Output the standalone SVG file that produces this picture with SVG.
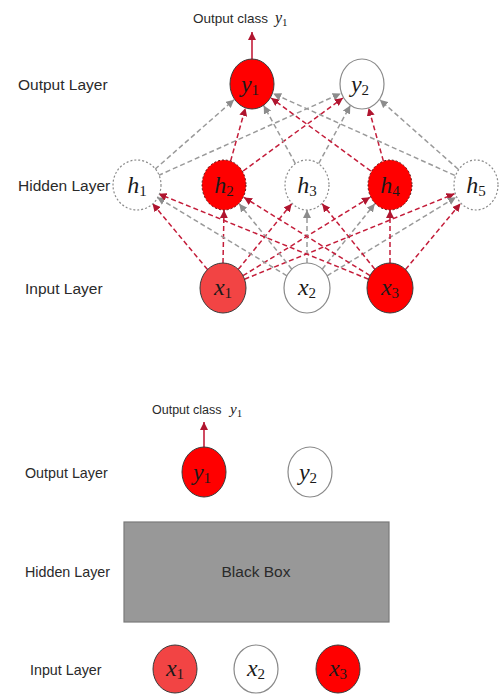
<svg xmlns="http://www.w3.org/2000/svg" width="501" height="694" viewBox="0 0 501 694">
  <style>
    .layer { font-family: "Liberation Sans", Arial, sans-serif; fill: #2a2a2a; }
    .math { font-family: "Liberation Serif", "DejaVu Serif", serif; font-style: italic; fill: #1a1a1a; }
    .sub { font-style: normal; }
    .edge { fill: none; stroke-width: 1.5; stroke-dasharray: 5 3; }
    .red { stroke: #c41d3a; marker-end: url(#headRed); }
    .grey { stroke: #9a9a9a; marker-end: url(#headGrey); }
    .solid { fill: none; stroke: #c41d3a; stroke-width: 1.6; marker-end: url(#headRed); }
    .on { fill: #ff0000; stroke: #3a3a3a; stroke-width: 1; }
    .half { fill: #f24444; stroke: #3a3a3a; stroke-width: 1; }
    .off { fill: #ffffff; stroke: #8a8a8a; stroke-width: 1.2; }
    .hid-on { fill: #ff0000; stroke: #5a1010; stroke-width: 1; stroke-dasharray: 2 2; }
    .hid-off { fill: #ffffff; stroke: #8a8a8a; stroke-width: 1.2; stroke-dasharray: 2 2; }
  </style>
  <defs>
    <marker id="headRed" markerUnits="userSpaceOnUse" markerWidth="9" markerHeight="8" refX="8" refY="4" orient="auto">
      <path d="M0,0 L8,4 L0,8 z" fill="#b0152f"/>
    </marker>
    <marker id="headGrey" markerUnits="userSpaceOnUse" markerWidth="9" markerHeight="8" refX="8" refY="4" orient="auto">
      <path d="M0,0 L8,4 L0,8 z" fill="#8c8c8c"/>
    </marker>
  </defs>

  <!-- ===== Full network ===== -->
  <text class="layer" x="193" y="23" font-size="13.5">Output class</text>
  <text class="math" x="275" y="23" font-size="16">y<tspan class="sub" font-size="11" dy="3">1</tspan></text>
  <text class="layer" x="18" y="90" font-size="15.5">Output Layer</text>
  <text class="layer" x="18" y="191" font-size="15.5">Hidden Layer</text>
  <text class="layer" x="25" y="294" font-size="15.5">Input Layer</text>

  <g id="connectors">
    <!-- output arrow -->
    <line class="solid" x1="252" y1="59" x2="252" y2="32"/>
    <!-- input to hidden -->
    <line class="edge red" x1="207.5" y1="269.5" x2="152.5" y2="203.5"/>
    <line class="edge red" x1="223" y1="263" x2="224" y2="210"/>
    <line class="edge red" x1="238.3" y1="269.3" x2="291.7" y2="203.7"/>
    <line class="edge red" x1="243" y1="275.7" x2="370" y2="197.3"/>
    <line class="edge red" x1="244.5" y1="279.2" x2="454.5" y2="193.8"/>
    <line class="edge grey" x1="286.9" y1="275.8" x2="157.1" y2="197.2"/>
    <line class="edge grey" x1="291.8" y1="269.2" x2="239.2" y2="203.8"/>
    <line class="edge grey" x1="307" y1="263" x2="307" y2="210"/>
    <line class="edge grey" x1="322.2" y1="269.2" x2="374.8" y2="203.8"/>
    <line class="edge grey" x1="327.1" y1="275.8" x2="455.9" y2="197.2"/>
    <line class="edge red" x1="368.5" y1="279.2" x2="158.5" y2="193.8"/>
    <line class="edge red" x1="370" y1="275.6" x2="244" y2="197.4"/>
    <line class="edge red" x1="374.8" y1="269.2" x2="322.2" y2="203.8"/>
    <line class="edge red" x1="390" y1="263" x2="390" y2="210"/>
    <line class="edge red" x1="405.5" y1="269.5" x2="460.5" y2="203.5"/>
    <!-- hidden to output -->
    <line class="edge grey" x1="154.9" y1="169.3" x2="234.1" y2="99.7"/>
    <line class="edge grey" x1="158.3" y1="175.5" x2="340.7" y2="93.5"/>
    <line class="edge red" x1="230.6" y1="161.1" x2="245.4" y2="107.9"/>
    <line class="edge red" x1="243.1" y1="171" x2="342.9" y2="98"/>
    <line class="edge grey" x1="295.3" y1="163.5" x2="263.7" y2="105.5"/>
    <line class="edge grey" x1="318.7" y1="163.5" x2="350.3" y2="105.5"/>
    <line class="edge red" x1="370.9" y1="171" x2="271.1" y2="98"/>
    <line class="edge red" x1="383.4" y1="161.1" x2="368.6" y2="107.9"/>
    <line class="edge grey" x1="454.8" y1="175.4" x2="273.2" y2="93.6"/>
    <line class="edge grey" x1="458.2" y1="169.2" x2="379.8" y2="99.8"/>
    <!-- reduced view output arrow -->
    <line class="solid" x1="204" y1="447" x2="204" y2="422"/>
  </g>

  <g id="y1"><ellipse class="on" cx="252" cy="84" rx="22" ry="25"/><text class="math" x="250" y="92" font-size="24" text-anchor="middle">y<tspan class="sub" font-size="15" dy="3">1</tspan></text></g>
  <g id="y2"><ellipse class="off" cx="362" cy="84" rx="22" ry="25"/><text class="math" x="360" y="92" font-size="24" text-anchor="middle">y<tspan class="sub" font-size="15" dy="3">2</tspan></text></g>

  <g id="h1"><ellipse class="hid-off" cx="137" cy="185" rx="24" ry="25"/><text class="math" x="137" y="193" font-size="24" text-anchor="middle">h<tspan class="sub" font-size="15" dy="3">1</tspan></text></g>
  <g id="h2"><ellipse class="hid-on" cx="224" cy="185" rx="22" ry="25"/><text class="math" x="224" y="193" font-size="24" text-anchor="middle">h<tspan class="sub" font-size="15" dy="3">2</tspan></text></g>
  <g id="h3"><ellipse class="hid-off" cx="307" cy="185" rx="22" ry="25"/><text class="math" x="307" y="193" font-size="24" text-anchor="middle">h<tspan class="sub" font-size="15" dy="3">3</tspan></text></g>
  <g id="h4"><ellipse class="hid-on" cx="390" cy="185" rx="22" ry="25"/><text class="math" x="390" y="193" font-size="24" text-anchor="middle">h<tspan class="sub" font-size="15" dy="3">4</tspan></text></g>
  <g id="h5"><ellipse class="hid-off" cx="476" cy="185" rx="22" ry="25"/><text class="math" x="476" y="193" font-size="24" text-anchor="middle">h<tspan class="sub" font-size="15" dy="3">5</tspan></text></g>

  <g id="x1"><ellipse class="half" cx="223" cy="288" rx="23" ry="25"/><text class="math" x="223" y="295" font-size="24" text-anchor="middle">x<tspan class="sub" font-size="15" dy="3">1</tspan></text></g>
  <g id="x2"><ellipse class="off" cx="307" cy="288" rx="23" ry="25"/><text class="math" x="307" y="295" font-size="24" text-anchor="middle">x<tspan class="sub" font-size="15" dy="3">2</tspan></text></g>
  <g id="x3"><ellipse class="on" cx="390" cy="288" rx="23" ry="25"/><text class="math" x="390" y="295" font-size="24" text-anchor="middle">x<tspan class="sub" font-size="15" dy="3">3</tspan></text></g>

  <!-- ===== Reduced view ===== -->
  <text class="layer" x="152" y="414" font-size="12.5">Output class</text>
  <text class="math" x="230" y="414" font-size="15">y<tspan class="sub" font-size="11" dy="3">1</tspan></text>
  <text class="layer" x="25" y="478" font-size="14.3">Output Layer</text>
  <text class="layer" x="25" y="577" font-size="14.3">Hidden Layer</text>
  <text class="layer" x="30" y="675" font-size="14.3">Input Layer</text>

  <g id="b-y1"><ellipse class="on" cx="204" cy="472" rx="22" ry="25"/><text class="math" x="202" y="480" font-size="24" text-anchor="middle">y<tspan class="sub" font-size="15" dy="3">1</tspan></text></g>
  <g id="b-y2"><ellipse class="off" cx="310" cy="472" rx="22" ry="25"/><text class="math" x="308" y="480" font-size="24" text-anchor="middle">y<tspan class="sub" font-size="15" dy="3">2</tspan></text></g>

  <g id="black-box">
    <rect x="124" y="522" width="265" height="100" fill="#989898" stroke="#7a7a7a" stroke-width="1.2"/>
    <text class="layer" x="256" y="577" font-size="15.5" text-anchor="middle" fill="#2a2a2a">Black Box</text>
  </g>

  <g id="b-x1"><ellipse class="half" cx="175" cy="669" rx="22" ry="24"/><text class="math" x="175" y="676" font-size="24" text-anchor="middle">x<tspan class="sub" font-size="15" dy="3">1</tspan></text></g>
  <g id="b-x2"><ellipse class="off" cx="256" cy="669" rx="22" ry="24"/><text class="math" x="256" y="676" font-size="24" text-anchor="middle">x<tspan class="sub" font-size="15" dy="3">2</tspan></text></g>
  <g id="b-x3"><ellipse class="on" cx="338" cy="669" rx="22" ry="24"/><text class="math" x="338" y="676" font-size="24" text-anchor="middle">x<tspan class="sub" font-size="15" dy="3">3</tspan></text></g>
</svg>
